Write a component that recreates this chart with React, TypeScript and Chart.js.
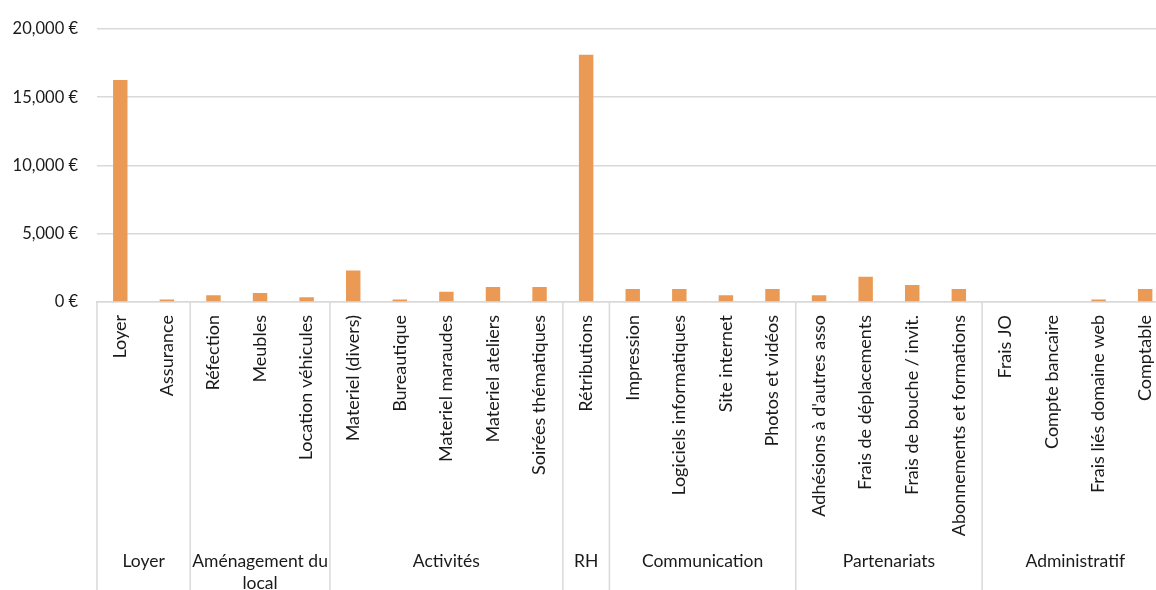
import React, { useEffect, useRef } from "react";
import { Chart, registerables } from "chart.js";

Chart.register(...registerables);

const categories: string[] = [
  "Loyer", "Assurance",
  "Réfection", "Meubles", "Location véhicules",
  "Materiel (divers)", "Bureautique", "Materiel maraudes", "Materiel ateliers", "Soirées thématiques",
  "Rétributions",
  "Impression", "Logiciels informatiques", "Site internet", "Photos et vidéos",
  "Adhésions à d'autres asso", "Frais de déplacements", "Frais de bouche / invit.", "Abonnements et formations",
  "Frais JO", "Compte bancaire", "Frais liés domaine web", "Comptable",
];

const values: number[] = [
  16250, 180,
  500, 650, 350,
  2300, 180, 750, 1100, 1100,
  18100,
  950, 950, 500, 950,
  500, 1850, 1250, 950,
  0, 0, 180, 950,
];

const groupNames: string[][] = [
  ["Loyer"],
  ["Aménagement du", "local"],
  ["Activités"],
  ["RH"],
  ["Communication"],
  ["Partenariats"],
  ["Administratif"],
];
const groupSizes: number[] = [2, 3, 5, 1, 4, 4, 4];

const yTicks: number[] = [0, 5000, 10000, 15000, 20000];

const FONT = "Lato, 'Open Sans', sans-serif";
const TEXT = "#1a1a1a";
const GRID = "#d9d9d9";

const groupPlugin = {
  id: "groupLabels",
  afterDraw(chart: any) {
    const ctx = chart.ctx;
    const x = chart.scales.x;
    const bottom = chart.height;
    const axisY = chart.chartArea.bottom;
    const step = x.getPixelForValue(1) - x.getPixelForValue(0);
    ctx.save();
    ctx.strokeStyle = GRID;
    ctx.lineWidth = 1.5;
    let idx = 0;
    const drawSep = (px: number) => {
      ctx.beginPath();
      ctx.moveTo(px, axisY);
      ctx.lineTo(px, bottom);
      ctx.stroke();
    };
    drawSep(x.getPixelForValue(0) - step / 2);
    ctx.fillStyle = TEXT;
    ctx.font = `17.5px ${FONT}`;
    ctx.textAlign = "center";
    ctx.textBaseline = "middle";
    groupSizes.forEach((n, g) => {
      const left = x.getPixelForValue(idx) - step / 2;
      const right = x.getPixelForValue(idx + n - 1) + step / 2;
      drawSep(right);
      const cx = (left + right) / 2;
      groupNames[g].forEach((line, li) => {
        ctx.fillText(line, cx, 561 + li * 22);
      });
      idx += n;
    });
    ctx.restore();
  },
};

export default function App() {
  const ref = useRef<HTMLCanvasElement | null>(null);
  useEffect(() => {
    if (!ref.current) return;
    const chart = new Chart(ref.current, {
      type: "bar",
      data: {
        labels: categories,
        datasets: [
          {
            data: values,
            backgroundColor: "#eb9a55",
            borderWidth: 0,
            categoryPercentage: 1,
            barPercentage: 0.31,
          },
        ],
      },
      options: {
        responsive: false,
        animation: false,
        devicePixelRatio: 1,
        layout: { padding: { top: 25, right: 11, left: 0, bottom: 0 } },
        plugins: { legend: { display: false }, tooltip: { enabled: false } },
        scales: {
          x: {
            grid: { display: false, drawTicks: false },
            border: { display: true, color: GRID, width: 1.5 },
            ticks: {
              autoSkip: false,
              maxRotation: 90,
              minRotation: 90,
              padding: 13,
              color: TEXT,
              font: { family: FONT, size: 18 },
            },
            afterFit(scale: any) {
              scale.height = 288;
            },
          },
          y: {
            min: 0,
            max: 20000,
            afterBuildTicks(scale: any) {
              scale.ticks = yTicks.map((v) => ({ value: v }));
            },
            grid: { color: GRID, lineWidth: 1.5, drawTicks: false },
            border: { display: false },
            ticks: {
              padding: 19,
              color: TEXT,
              font: { family: FONT, size: 16.5 },
              callback: (v: any) => Number(v).toLocaleString("en-US") + " €",
            },
            afterFit(scale: any) {
              scale.width = 97;
            },
          },
        },
      },
      plugins: [groupPlugin],
    });
    return () => chart.destroy();
  }, []);
  return (
    <div style={{ position: "absolute", left: 0, top: 0, width: 1156, height: 590, overflow: "hidden", background: "#fff" }}>
      <canvas ref={ref} width={1180} height={590} style={{ width: 1180, height: 590, display: "block" }} />
    </div>
  );
}
